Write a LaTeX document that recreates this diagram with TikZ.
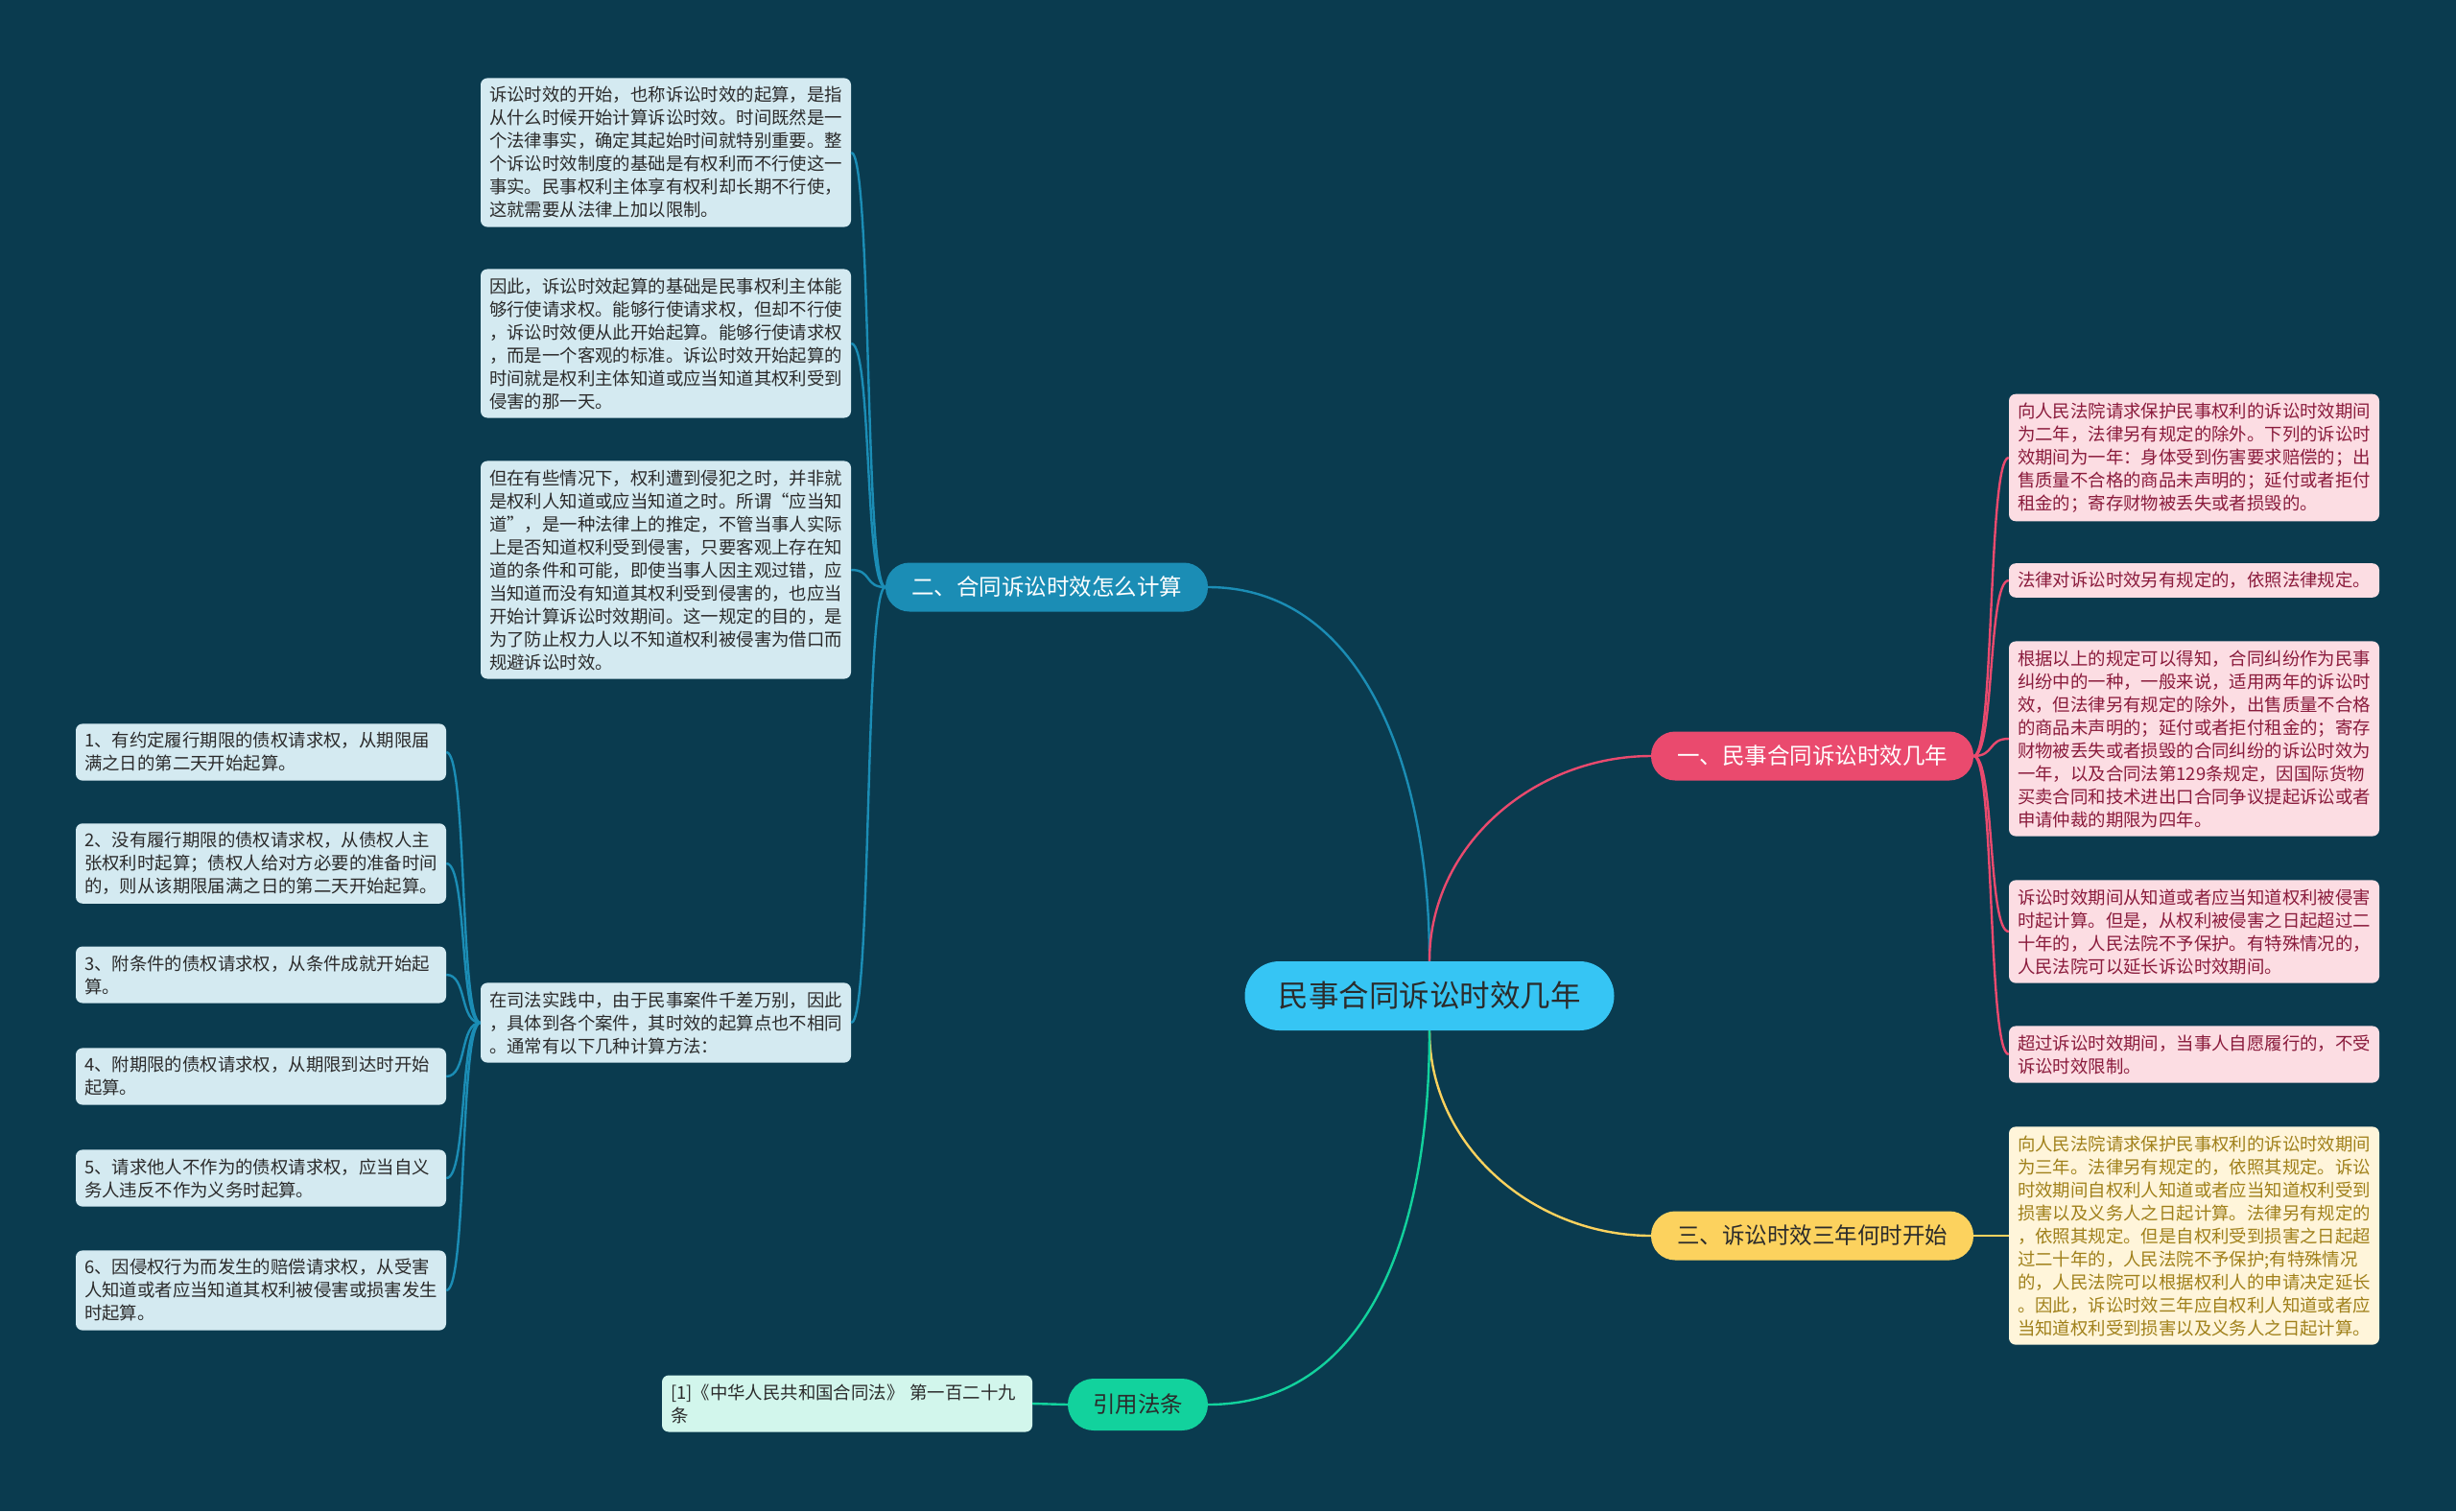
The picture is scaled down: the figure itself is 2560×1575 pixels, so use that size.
\documentclass[tikz,border=0pt]{standalone}
\usepackage{fontspec}
\newfontfamily\cjk{Noto Sans CJK SC}
\definecolor{bgteal}{HTML}{0A3B4F}
\definecolor{rootblue}{HTML}{36C5F4}
\definecolor{redpink}{HTML}{EA4A6E}
\definecolor{seablue}{HTML}{1B8DB5}
\definecolor{sunyellow}{HTML}{FCD25E}
\definecolor{mint}{HTML}{12D29D}
\definecolor{leafblue}{HTML}{D4EAF1}
\definecolor{leafpink}{HTML}{FCDDE3}
\definecolor{leafyellow}{HTML}{FFF5DA}
\definecolor{leafmint}{HTML}{D2F6EC}
\definecolor{textred}{HTML}{8A1B3C}
\definecolor{textgold}{HTML}{A0801A}
\definecolor{textdark}{HTML}{2B2B2B}
\usetikzlibrary{positioning}

\begin{document}
\begin{tikzpicture}[x=1pt,y=-1pt,
  leaf/.style={rounded corners=7pt,inner xsep=9pt,inner ysep=9pt,text width=368pt,align=left,
    font=\cjk\fontsize{18.4}{24}\selectfont},
  blueleaf/.style={leaf,fill=leafblue,text=textdark},
  pinkleaf/.style={leaf,fill=leafpink,text=textred},
  goldleaf/.style={leaf,fill=leafyellow,text=textgold},
  mintleaf/.style={leaf,fill=leafmint,text=textdark},
  topic/.style={rounded corners=25pt,minimum height=51pt,inner xsep=14pt,
    font=\cjk\fontsize{23.5}{26}\selectfont},
  bluelink/.style={seablue,line width=2.4pt},
  pinklink/.style={redpink,line width=2.4pt},
  goldlink/.style={sunyellow,line width=2.4pt},
  mintlink/.style={mint,line width=2.4pt}]
  \useasboundingbox (0,0) rectangle (2560,1575);
  \fill[bgteal] (0,0) rectangle (2560,1575);

  \node[fill=rootblue,text=textdark,rounded corners=36pt,minimum width=385pt,minimum height=72pt,
    font=\cjk\fontsize{31.5}{34}\selectfont] (root) at (1490,1038) {民事合同诉讼时效几年};

  \node[topic,fill=redpink,text=white,minimum width=336pt] (howlong) at (1889,788) {一、民事合同诉讼时效几年};
  \node[topic,fill=seablue,text=white,minimum width=336pt] (howcalc) at (1091,612) {二、合同诉讼时效怎么计算};
  \node[topic,fill=sunyellow,text=textdark,minimum width=336pt] (whenstart) at (1889,1288) {三、诉讼时效三年何时开始};
  \node[topic,fill=mint,text=textdark,minimum width=146pt,minimum height=54pt,rounded corners=27pt] (citelaw) at (1186,1464) {引用法条};

  \node[blueleaf] (begin) at (694,159) {诉讼时效的开始，也称诉讼时效的起算，是指\\从什么时候开始计算诉讼时效。时间既然是一\\个法律事实，确定其起始时间就特别重要。整\\个诉讼时效制度的基础是有权利而不行使这一\\事实。民事权利主体享有权利却长期不行使，\\这就需要从法律上加以限制。};
  \node[blueleaf] (basis) at (694,358) {因此，诉讼时效起算的基础是民事权利主体能\\够行使请求权。能够行使请求权，但却不行使\\，诉讼时效便从此开始起算。能够行使请求权\\，而是一个客观的标准。诉讼时效开始起算的\\时间就是权利主体知道或应当知道其权利受到\\侵害的那一天。};
  \node[blueleaf] (oughtknow) at (694,594) {但在有些情况下，权利遭到侵犯之时，并非就\\是权利人知道或应当知道之时。所谓“应当知\\道”，是一种法律上的推定，不管当事人实际\\上是否知道权利受到侵害，只要客观上存在知\\道的条件和可能，即使当事人因主观过错，应\\当知道而没有知道其权利受到侵害的，也应当\\开始计算诉讼时效期间。这一规定的目的，是\\为了防止权力人以不知道权利被侵害为借口而\\规避诉讼时效。};
  \node[blueleaf] (practice) at (694,1066) {在司法实践中，由于民事案件千差万别，因此\\，具体到各个案件，其时效的起算点也不相同\\。通常有以下几种计算方法：};

  \node[blueleaf] (way1) at (272,784) {1、有约定履行期限的债权请求权，从期限届\\满之日的第二天开始起算。};
  \node[blueleaf] (way2) at (272,900) {2、没有履行期限的债权请求权，从债权人主\\张权利时起算；债权人给对方必要的准备时间\\的，则从该期限届满之日的第二天开始起算。};
  \node[blueleaf] (way3) at (272,1016) {3、附条件的债权请求权，从条件成就开始起\\算。};
  \node[blueleaf] (way4) at (272,1122) {4、附期限的债权请求权，从期限到达时开始\\起算。};
  \node[blueleaf] (way5) at (272,1228) {5、请求他人不作为的债权请求权，应当自义\\务人违反不作为义务时起算。};
  \node[blueleaf] (way6) at (272,1345) {6、因侵权行为而发生的赔偿请求权，从受害\\人知道或者应当知道其权利被侵害或损害发生\\时起算。};

  \node[pinkleaf] (twoyears) at (2287,477) {向人民法院请求保护民事权利的诉讼时效期间\\为二年，法律另有规定的除外。下列的诉讼时\\效期间为一年：身体受到伤害要求赔偿的；出\\售质量不合格的商品未声明的；延付或者拒付\\租金的；寄存财物被丢失或者损毁的。};
  \node[pinkleaf] (otherlaw) at (2287,605) {法律对诉讼时效另有规定的，依照法律规定。};
  \node[pinkleaf] (fouryears) at (2287,770) {根据以上的规定可以得知，合同纠纷作为民事\\纠纷中的一种，一般来说，适用两年的诉讼时\\效，但法律另有规定的除外，出售质量不合格\\的商品未声明的；延付或者拒付租金的；寄存\\财物被丢失或者损毁的合同纠纷的诉讼时效为\\一年，以及合同法第129条规定，因国际货物\\买卖合同和技术进出口合同争议提起诉讼或者\\申请仲裁的期限为四年。};
  \node[pinkleaf] (twenty) at (2287,971) {诉讼时效期间从知道或者应当知道权利被侵害\\时起计算。但是，从权利被侵害之日起超过二\\十年的，人民法院不予保护。有特殊情况的，\\人民法院可以延长诉讼时效期间。};
  \node[pinkleaf] (willing) at (2287,1099) {超过诉讼时效期间，当事人自愿履行的，不受\\诉讼时效限制。};

  \node[goldleaf] (threeyears) at (2287,1288) {向人民法院请求保护民事权利的诉讼时效期间\\为三年。法律另有规定的，依照其规定。诉讼\\时效期间自权利人知道或者应当知道权利受到\\损害以及义务人之日起计算。法律另有规定的\\，依照其规定。但是自权利受到损害之日起超\\过二十年的，人民法院不予保护;有特殊情况\\的，人民法院可以根据权利人的申请决定延长\\。因此，诉讼时效三年应自权利人知道或者应\\当知道权利受到损害以及义务人之日起计算。};

  \node[mintleaf] (contractlaw) at (883,1463) {[1]《中华人民共和国合同法》 第一百二十九\\条};

  \draw[bluelink] (root.north) .. controls (1490,800) and (1420,612) .. (howcalc.east);
  \draw[pinklink] (root.north) .. controls (1490,880) and (1600,788) .. (howlong.west);
  \draw[goldlink] (root.south) .. controls (1490,1196) and (1600,1288) .. (whenstart.west);
  \draw[mintlink] (root.south) .. controls (1490,1296) and (1420,1464) .. (citelaw.east);

  \draw[bluelink] (howcalc.west) .. controls +(-22,0) and +(22,0) .. (begin.east);
  \draw[bluelink] (howcalc.west) .. controls +(-22,0) and +(22,0) .. (basis.east);
  \draw[bluelink] (howcalc.west) .. controls +(-22,0) and +(22,0) .. (oughtknow.east);
  \draw[bluelink] (howcalc.west) .. controls +(-22,0) and +(22,0) .. (practice.east);

  \draw[bluelink] (practice.west) .. controls +(-22,0) and +(22,0) .. (way1.east);
  \draw[bluelink] (practice.west) .. controls +(-22,0) and +(22,0) .. (way2.east);
  \draw[bluelink] (practice.west) .. controls +(-22,0) and +(22,0) .. (way3.east);
  \draw[bluelink] (practice.west) .. controls +(-22,0) and +(22,0) .. (way4.east);
  \draw[bluelink] (practice.west) .. controls +(-22,0) and +(22,0) .. (way5.east);
  \draw[bluelink] (practice.west) .. controls +(-22,0) and +(22,0) .. (way6.east);

  \draw[pinklink] (howlong.east) .. controls +(22,0) and +(-22,0) .. (twoyears.west);
  \draw[pinklink] (howlong.east) .. controls +(22,0) and +(-22,0) .. (otherlaw.west);
  \draw[pinklink] (howlong.east) .. controls +(22,0) and +(-22,0) .. (fouryears.west);
  \draw[pinklink] (howlong.east) .. controls +(22,0) and +(-22,0) .. (twenty.west);
  \draw[pinklink] (howlong.east) .. controls +(22,0) and +(-22,0) .. (willing.west);

  \draw[goldlink] (whenstart.east) -- (threeyears.west);
  \draw[mintlink] (citelaw.west) -- (contractlaw.east);
\end{tikzpicture}
\end{document}
